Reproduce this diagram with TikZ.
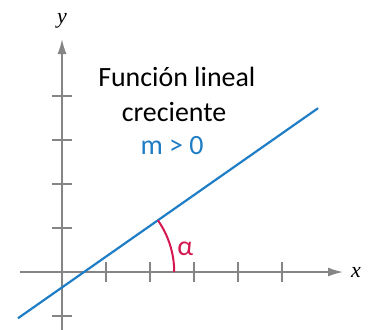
\documentclass[tikz,border=0pt]{standalone}
\usepackage{fontspec}
\setmainfont{Carlito}
\newfontfamily\axisfont{Liberation Serif}
\usetikzlibrary{arrows.meta}
\definecolor{axisgray}{HTML}{858585}
\definecolor{lineblue}{HTML}{1E7DC4}
\definecolor{anglered}{HTML}{D6174F}
\begin{document}
\begin{tikzpicture}[x=44bp,y=44bp,
  axis/.style={draw=axisgray,line width=1.6bp,-{Latex[length=15bp,width=9bp]}},
  tickmark/.style={draw=axisgray,line width=1.4bp},
  bigtext/.style={font=\fontsize{28}{32}\selectfont,anchor=base},
  axlabel/.style={font=\axisfont\itshape\fontsize{22}{24}\selectfont}]
\useasboundingbox (-1.409,-1.295) rectangle (6.977,6.182);
\coordinate (xs) at (-0.955,0);
\coordinate (xe) at (6.386,0);
\coordinate (ys) at (0,-1.4);
\coordinate (ye) at (0,5.295);
\draw[axis] (xs) -- (xe);
\draw[axis] (ys) -- (ye);
\foreach \i in {1,...,5} \draw[tickmark] (\i,-0.227) -- (\i,0.227);
\foreach \j in {-1,1,2,3,4} \draw[tickmark] (-0.227,\j) -- (0.227,\j);
\node[axlabel] (xl) at (6.68,0) {x};
\node[axlabel] (yl) at (0,5.7) {y};
\coordinate (ls) at (-1,-1.05);
\coordinate (le) at (5.82,3.724);
\coordinate (c) at (0.5,0);
\draw[lineblue,line width=2.2bp] (ls) -- (le);
\draw[anglered,line width=2bp] ([shift={(0:2.05)}]c) arc[start angle=0,end angle=35,radius=2.05];
\node[bigtext,text=anglered] (al) at (2.8,0.38) {α};
\node[bigtext] (t1) at (2.61,4.205) {Función lineal};
\node[bigtext] (t2) at (2.545,3.41) {creciente};
\node[bigtext,text=lineblue] (t3) at (2.5,2.66) {m > 0};
\end{tikzpicture}
\end{document}
